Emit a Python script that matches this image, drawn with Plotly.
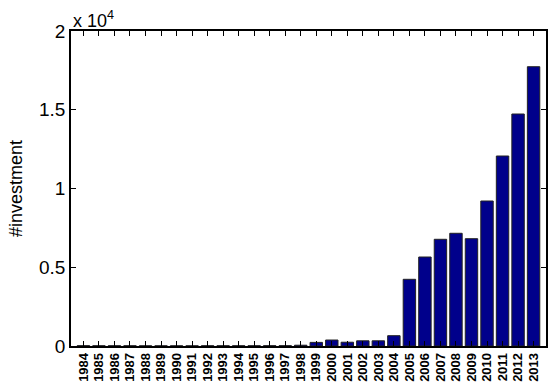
import plotly.graph_objects as go

years = [str(y) for y in range(1984, 2014)]
investments = [20, 15, 15, 15, 10, 10, 10, 10, 15, 15, 15, 15, 20, 20, 50,
               230, 380, 240, 330, 330, 654, 4235, 5651, 6775, 7156, 6813,
               9206, 12063, 14730, 17733]
ytick_vals = [0, 5000, 10000, 15000, 20000]
ytick_text = ["0", "0.5", "1", "1.5", "2"]

fig = go.Figure()
fig.add_trace(go.Bar(
    x=list(range(len(years))), y=investments,
    width=0.8,
    marker=dict(color="#00008B", line=dict(color="#222222", width=1)),
))

fig.update_layout(
    width=549, height=388,
    margin=dict(l=71, r=1, t=31, b=42),
    paper_bgcolor="white", plot_bgcolor="white",
    showlegend=False,
    font=dict(family="Liberation Sans, Arial, sans-serif", color="black"),
    xaxis=dict(
        range=[-0.8, 29.8],
        tickmode="array", tickvals=list(range(len(years))), ticktext=years,
        tickangle=-90, tickfont=dict(size=13, family="Liberation Sans, Arial", weight="bold"),
        ticks="inside", ticklen=5, tickcolor="black",
        showline=True, linecolor="black", linewidth=1.5, mirror="allticks",
        showgrid=False, zeroline=False,
    ),
    yaxis=dict(
        range=[0, 20000],
        tickmode="array", tickvals=ytick_vals, ticktext=ytick_text,
        tickfont=dict(size=19),
        ticks="inside", ticklen=5, tickcolor="black",
        showline=True, linecolor="black", linewidth=1.5, mirror="allticks",
        showgrid=False, zeroline=False,
        title=dict(text="#investment", font=dict(size=18), standoff=12),
    ),
    annotations=[dict(
        text="x 10<sup>4</sup>", x=0, y=1, xref="paper", yref="paper",
        xanchor="left", yanchor="bottom", showarrow=False,
        font=dict(size=18), yshift=-2, xshift=0,
    )],
)

fig.write_html("out.html", config={"displayModeBar": False},
               post_script="document.body.style.margin='0';document.body.style.overflow='hidden';")
